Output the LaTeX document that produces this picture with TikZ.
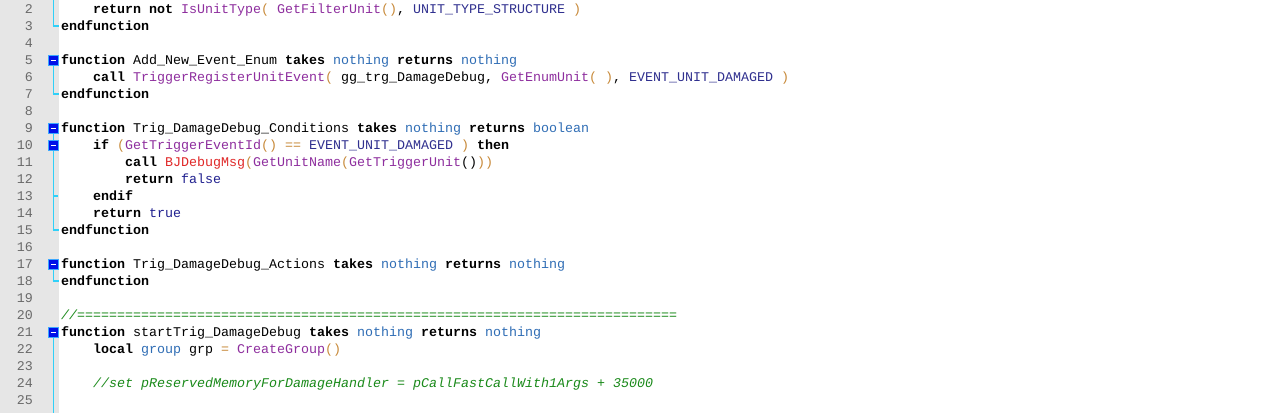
\documentclass[tikz,border=0pt]{standalone}
\usepackage{fontspec}
\setmonofont{Liberation Mono}
\usepackage{xcolor}
\definecolor{guttercol}{HTML}{E6E6E6}
\definecolor{numcol}{HTML}{6A6A6A}
\definecolor{tycol}{HTML}{2F6DB5}
\definecolor{boolcol}{HTML}{20208F}
\definecolor{cstcol}{HTML}{30308F}
\definecolor{natcol}{HTML}{8E2E9E}
\definecolor{bjcol}{HTML}{E02828}
\definecolor{parcol}{HTML}{C88A3A}
\definecolor{cmcol}{HTML}{1A8A1A}
\definecolor{fldcyan}{HTML}{30D0F8}
\definecolor{foldfill}{HTML}{0010E8}
\definecolor{foldedge}{HTML}{3CA8FF}
\newcommand\kw[1]{\textbf{#1}}
\newcommand\ty[1]{\textcolor{tycol}{#1}}
\newcommand\bl[1]{\textcolor{boolcol}{#1}}
\newcommand\cst[1]{\textcolor{cstcol}{#1}}
\newcommand\nat[1]{\textcolor{natcol}{#1}}
\newcommand\bj[1]{\textcolor{bjcol}{#1}}
\newcommand\pp[1]{\textcolor{parcol}{#1}}
\newcommand\cm[1]{\textcolor{cmcol}{\itshape #1}}
\newcommand\codeline[3]{\node[codest] (L#1) at ({61+8*#2},{13+(#1-2)*17}) {#3};}
\newcommand\lnum[1]{\node[numst] (N#1) at (33,{13+(#1-2)*17}) {#1};}
\newcommand\foldbox[1]{%
  \node[foldst] (F#1) at (53.5,{9.5+(#1-2)*17}) {};
  \draw[white,line width=1.5pt] ([xshift=2.5pt]F#1.west) -- ([xshift=-2.5pt]F#1.east);}
\newcommand\vfold[2]{\fill[fldcyan] ([xshift=-0.9pt]#1) rectangle ([xshift=0.9pt]#2);}
\tikzset{
  codest/.style={anchor=base west,inner sep=0pt,font=\ttfamily\fontsize{13.33}{17}\selectfont},
  numst/.style={anchor=base east,inner sep=0pt,text=numcol,font=\ttfamily\fontsize{13.33}{17}\selectfont},
  foldst/.style={draw=foldedge,fill=foldfill,line width=1.2pt,minimum width=9.5pt,minimum height=9.5pt,inner sep=0pt},
  foldln/.style={color=fldcyan,line width=1.8pt}
}
\begin{document}
\begin{tikzpicture}[x=1pt,y=-1pt]
\useasboundingbox (0,0) rectangle (1280,413);
\fill[white] (0,0) rectangle (1280,413);
\fill[guttercol] (0,0) rectangle (59,413);
% fold lines
\coordinate (T0) at (53.5,0);
\coordinate (E3) at (53.5,26);
\coordinate (E7) at (53.5,94);
\coordinate (E13) at (53.5,196);
\coordinate (E15) at (53.5,230);
\coordinate (E18) at (53.5,281);
\coordinate (B21) at (53.5,413);
\foreach \n in {2,...,25}{\lnum{\n}}
\foldbox{5}
\foldbox{9}
\foldbox{10}
\foldbox{17}
\foldbox{21}
\vfold{T0}{E3}
\vfold{F5.south}{E7}
\vfold{F9.south}{F10.north}
\vfold{F10.south}{E15}
\vfold{F17.south}{E18}
\vfold{F21.south}{B21}
\draw[foldln] ([xshift=-0.9pt]E3) -- ++(6.4,0);
\draw[foldln] ([xshift=-0.9pt]E7) -- ++(6.4,0);
\draw[foldln] ([xshift=-0.9pt]E15) -- ++(6.4,0);
\draw[foldln] ([xshift=-0.9pt]E18) -- ++(6.4,0);
\draw[foldln] (E13) -- ++(4,0);
% code
\codeline{2}{4}{\kw{return} \kw{not} \nat{IsUnitType}\pp{(} \nat{GetFilterUnit}\pp{()}, \cst{UNIT\_TYPE\_STRUCTURE} \pp{)}}
\codeline{3}{0}{\kw{endfunction}}
\codeline{5}{0}{\kw{function} Add\_New\_Event\_Enum \kw{takes} \ty{nothing} \kw{returns} \ty{nothing}}
\codeline{6}{4}{\kw{call} \nat{TriggerRegisterUnitEvent}\pp{(} gg\_trg\_DamageDebug, \nat{GetEnumUnit}\pp{(\ )}, \cst{EVENT\_UNIT\_DAMAGED} \pp{)}}
\codeline{7}{0}{\kw{endfunction}}
\codeline{9}{0}{\kw{function} Trig\_DamageDebug\_Conditions \kw{takes} \ty{nothing} \kw{returns} \ty{boolean}}
\codeline{10}{4}{\kw{if} \pp{(}\nat{GetTriggerEventId}\pp{()} \pp{==} \cst{EVENT\_UNIT\_DAMAGED} \pp{)} \kw{then}}
\codeline{11}{8}{\kw{call} \bj{BJDebugMsg}\pp{(}\nat{GetUnitName}\pp{(}\nat{GetTriggerUnit}()\pp{))}}
\codeline{12}{8}{\kw{return} \bl{false}}
\codeline{13}{4}{\kw{endif}}
\codeline{14}{4}{\kw{return} \bl{true}}
\codeline{15}{0}{\kw{endfunction}}
\codeline{17}{0}{\kw{function} Trig\_DamageDebug\_Actions \kw{takes} \ty{nothing} \kw{returns} \ty{nothing}}
\codeline{18}{0}{\kw{endfunction}}
\codeline{20}{0}{\cm{//===========================================================================}}
\codeline{21}{0}{\kw{function} startTrig\_DamageDebug \kw{takes} \ty{nothing} \kw{returns} \ty{nothing}}
\codeline{22}{4}{\kw{local} \ty{group} grp \pp{=} \nat{CreateGroup}\pp{()}}
\codeline{24}{4}{\cm{//set pReservedMemoryForDamageHandler = pCallFastCallWith1Args + 35000}}
\end{tikzpicture}
\end{document}
